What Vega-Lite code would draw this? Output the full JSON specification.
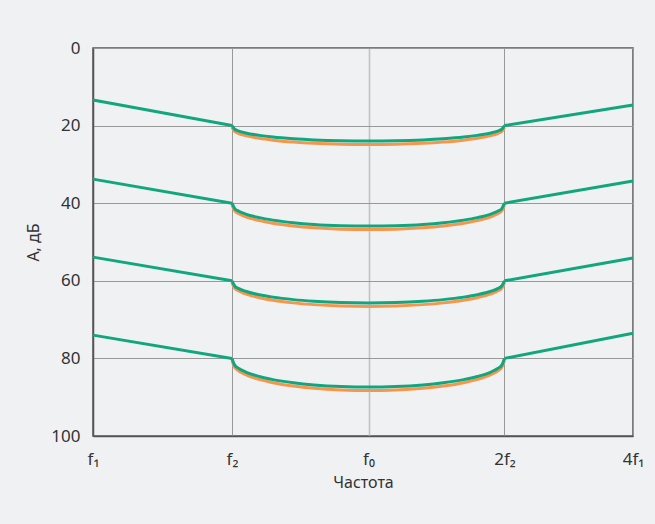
{
  "$schema": "https://vega.github.io/schema/vega-lite/v6.json",
  "autosize": {"type": "none"},
  "width": 540,
  "height": 388,
  "padding": {"left": 93, "top": 48, "right": 22, "bottom": 88},
  "background": "#f0f1f3",
  "config": {
    "view": {"stroke": "#555555", "strokeWidth": 1.5},
    "font": "Noto Sans",
    "axis": {
      "labelFont": "Noto Sans",
      "titleFont": "Noto Sans",
      "labelColor": "#333333",
      "titleColor": "#333333",
      "labelFontSize": 17,
      "titleFontSize": 16,
      "titleFontWeight": "normal",
      "ticks": false,
      "domainColor": "#555555",
      "domainWidth": 1.5,
      "gridColor": "#999999",
      "gridWidth": 1,
      "gridOpacity": 1
    }
  },
  "datasets": {
    "green": [
      {"line": 1, "seg": "L", "x": 1, "a": 13.4},
      {"line": 1, "seg": "L", "x": 1.42879, "a": 20},
      {"line": 1, "seg": "C", "x": 1.42879, "a": 20},
      {"line": 1, "seg": "C", "x": 1.43886, "a": 20.94},
      {"line": 1, "seg": "C", "x": 1.45406, "a": 21.4},
      {"line": 1, "seg": "C", "x": 1.47976, "a": 21.9},
      {"line": 1, "seg": "C", "x": 1.53255, "a": 22.52},
      {"line": 1, "seg": "C", "x": 1.5872, "a": 22.96},
      {"line": 1, "seg": "C", "x": 1.67287, "a": 23.4},
      {"line": 1, "seg": "C", "x": 1.76316, "a": 23.7},
      {"line": 1, "seg": "C", "x": 1.89118, "a": 23.93},
      {"line": 1, "seg": "C", "x": 2.02849, "a": 24.0},
      {"line": 1, "seg": "C", "x": 2.17515, "a": 23.93},
      {"line": 1, "seg": "C", "x": 2.33243, "a": 23.7},
      {"line": 1, "seg": "C", "x": 2.45781, "a": 23.4},
      {"line": 1, "seg": "C", "x": 2.58993, "a": 22.96},
      {"line": 1, "seg": "C", "x": 2.68194, "a": 22.52},
      {"line": 1, "seg": "C", "x": 2.77722, "a": 21.9},
      {"line": 1, "seg": "C", "x": 2.82611, "a": 21.4},
      {"line": 1, "seg": "C", "x": 2.85599, "a": 20.94},
      {"line": 1, "seg": "C", "x": 2.87588, "a": 20},
      {"line": 1, "seg": "R", "x": 2.87588, "a": 20},
      {"line": 1, "seg": "R", "x": 4, "a": 14.7},

      {"line": 2, "seg": "L", "x": 1, "a": 33.8},
      {"line": 2, "seg": "L", "x": 1.42879, "a": 40},
      {"line": 2, "seg": "C", "x": 1.42879, "a": 40},
      {"line": 2, "seg": "C", "x": 1.43886, "a": 41.38},
      {"line": 2, "seg": "C", "x": 1.45406, "a": 42.07},
      {"line": 2, "seg": "C", "x": 1.47976, "a": 42.8},
      {"line": 2, "seg": "C", "x": 1.53255, "a": 43.72},
      {"line": 2, "seg": "C", "x": 1.5872, "a": 44.36},
      {"line": 2, "seg": "C", "x": 1.67287, "a": 45.02},
      {"line": 2, "seg": "C", "x": 1.76316, "a": 45.46},
      {"line": 2, "seg": "C", "x": 1.89118, "a": 45.79},
      {"line": 2, "seg": "C", "x": 2.02849, "a": 45.9},
      {"line": 2, "seg": "C", "x": 2.17515, "a": 45.79},
      {"line": 2, "seg": "C", "x": 2.33243, "a": 45.46},
      {"line": 2, "seg": "C", "x": 2.45781, "a": 45.02},
      {"line": 2, "seg": "C", "x": 2.58993, "a": 44.36},
      {"line": 2, "seg": "C", "x": 2.68194, "a": 43.72},
      {"line": 2, "seg": "C", "x": 2.77722, "a": 42.8},
      {"line": 2, "seg": "C", "x": 2.82611, "a": 42.07},
      {"line": 2, "seg": "C", "x": 2.85599, "a": 41.38},
      {"line": 2, "seg": "C", "x": 2.87588, "a": 40},
      {"line": 2, "seg": "R", "x": 2.87588, "a": 40},
      {"line": 2, "seg": "R", "x": 4, "a": 34.3},

      {"line": 3, "seg": "L", "x": 1, "a": 53.9},
      {"line": 3, "seg": "L", "x": 1.42879, "a": 60},
      {"line": 3, "seg": "C", "x": 1.42879, "a": 60},
      {"line": 3, "seg": "C", "x": 1.43886, "a": 61.33},
      {"line": 3, "seg": "C", "x": 1.45406, "a": 62.0},
      {"line": 3, "seg": "C", "x": 1.47976, "a": 62.7},
      {"line": 3, "seg": "C", "x": 1.53255, "a": 63.6},
      {"line": 3, "seg": "C", "x": 1.5872, "a": 64.21},
      {"line": 3, "seg": "C", "x": 1.67287, "a": 64.85},
      {"line": 3, "seg": "C", "x": 1.76316, "a": 65.27},
      {"line": 3, "seg": "C", "x": 1.89118, "a": 65.6},
      {"line": 3, "seg": "C", "x": 2.02849, "a": 65.7},
      {"line": 3, "seg": "C", "x": 2.17515, "a": 65.6},
      {"line": 3, "seg": "C", "x": 2.33243, "a": 65.27},
      {"line": 3, "seg": "C", "x": 2.45781, "a": 64.85},
      {"line": 3, "seg": "C", "x": 2.58993, "a": 64.21},
      {"line": 3, "seg": "C", "x": 2.68194, "a": 63.6},
      {"line": 3, "seg": "C", "x": 2.77722, "a": 62.7},
      {"line": 3, "seg": "C", "x": 2.82611, "a": 62.0},
      {"line": 3, "seg": "C", "x": 2.85599, "a": 61.33},
      {"line": 3, "seg": "C", "x": 2.87588, "a": 60},
      {"line": 3, "seg": "R", "x": 2.87588, "a": 60},
      {"line": 3, "seg": "R", "x": 4, "a": 54.1},

      {"line": 4, "seg": "L", "x": 1, "a": 74.0},
      {"line": 4, "seg": "L", "x": 1.42879, "a": 80},
      {"line": 4, "seg": "C", "x": 1.42879, "a": 80},
      {"line": 4, "seg": "C", "x": 1.43886, "a": 81.73},
      {"line": 4, "seg": "C", "x": 1.45406, "a": 82.6},
      {"line": 4, "seg": "C", "x": 1.47976, "a": 83.51},
      {"line": 4, "seg": "C", "x": 1.53255, "a": 84.67},
      {"line": 4, "seg": "C", "x": 1.5872, "a": 85.47},
      {"line": 4, "seg": "C", "x": 1.67287, "a": 86.29},
      {"line": 4, "seg": "C", "x": 1.76316, "a": 86.85},
      {"line": 4, "seg": "C", "x": 1.89118, "a": 87.27},
      {"line": 4, "seg": "C", "x": 2.02849, "a": 87.4},
      {"line": 4, "seg": "C", "x": 2.17515, "a": 87.27},
      {"line": 4, "seg": "C", "x": 2.33243, "a": 86.85},
      {"line": 4, "seg": "C", "x": 2.45781, "a": 86.29},
      {"line": 4, "seg": "C", "x": 2.58993, "a": 85.47},
      {"line": 4, "seg": "C", "x": 2.68194, "a": 84.67},
      {"line": 4, "seg": "C", "x": 2.77722, "a": 83.51},
      {"line": 4, "seg": "C", "x": 2.82611, "a": 82.6},
      {"line": 4, "seg": "C", "x": 2.85599, "a": 81.73},
      {"line": 4, "seg": "C", "x": 2.87588, "a": 80},
      {"line": 4, "seg": "R", "x": 2.87588, "a": 80},
      {"line": 4, "seg": "R", "x": 4, "a": 73.5}
    ],
    "orange": [
      {"line": 1, "seg": "C", "x": 1.42879, "a": 20.5},
      {"line": 1, "seg": "C", "x": 1.43886, "a": 21.53},
      {"line": 1, "seg": "C", "x": 1.45406, "a": 22.04},
      {"line": 1, "seg": "C", "x": 1.47976, "a": 22.59},
      {"line": 1, "seg": "C", "x": 1.53255, "a": 23.28},
      {"line": 1, "seg": "C", "x": 1.5872, "a": 23.75},
      {"line": 1, "seg": "C", "x": 1.67287, "a": 24.24},
      {"line": 1, "seg": "C", "x": 1.76316, "a": 24.57},
      {"line": 1, "seg": "C", "x": 1.89118, "a": 24.82},
      {"line": 1, "seg": "C", "x": 2.02849, "a": 24.9},
      {"line": 1, "seg": "C", "x": 2.17515, "a": 24.82},
      {"line": 1, "seg": "C", "x": 2.33243, "a": 24.57},
      {"line": 1, "seg": "C", "x": 2.45781, "a": 24.24},
      {"line": 1, "seg": "C", "x": 2.58993, "a": 23.75},
      {"line": 1, "seg": "C", "x": 2.68194, "a": 23.28},
      {"line": 1, "seg": "C", "x": 2.77722, "a": 22.59},
      {"line": 1, "seg": "C", "x": 2.82611, "a": 22.04},
      {"line": 1, "seg": "C", "x": 2.85599, "a": 21.53},
      {"line": 1, "seg": "C", "x": 2.87588, "a": 20.5},

      {"line": 2, "seg": "C", "x": 1.42879, "a": 40.5},
      {"line": 2, "seg": "C", "x": 1.43886, "a": 41.97},
      {"line": 2, "seg": "C", "x": 1.45406, "a": 42.71},
      {"line": 2, "seg": "C", "x": 1.47976, "a": 43.49},
      {"line": 2, "seg": "C", "x": 1.53255, "a": 44.48},
      {"line": 2, "seg": "C", "x": 1.5872, "a": 45.16},
      {"line": 2, "seg": "C", "x": 1.67287, "a": 45.86},
      {"line": 2, "seg": "C", "x": 1.76316, "a": 46.33},
      {"line": 2, "seg": "C", "x": 1.89118, "a": 46.69},
      {"line": 2, "seg": "C", "x": 2.02849, "a": 46.8},
      {"line": 2, "seg": "C", "x": 2.17515, "a": 46.69},
      {"line": 2, "seg": "C", "x": 2.33243, "a": 46.33},
      {"line": 2, "seg": "C", "x": 2.45781, "a": 45.86},
      {"line": 2, "seg": "C", "x": 2.58993, "a": 45.16},
      {"line": 2, "seg": "C", "x": 2.68194, "a": 44.48},
      {"line": 2, "seg": "C", "x": 2.77722, "a": 43.49},
      {"line": 2, "seg": "C", "x": 2.82611, "a": 42.71},
      {"line": 2, "seg": "C", "x": 2.85599, "a": 41.97},
      {"line": 2, "seg": "C", "x": 2.87588, "a": 40.5},

      {"line": 3, "seg": "C", "x": 1.42879, "a": 60.5},
      {"line": 3, "seg": "C", "x": 1.43886, "a": 61.93},
      {"line": 3, "seg": "C", "x": 1.45406, "a": 62.64},
      {"line": 3, "seg": "C", "x": 1.47976, "a": 63.39},
      {"line": 3, "seg": "C", "x": 1.53255, "a": 64.35},
      {"line": 3, "seg": "C", "x": 1.5872, "a": 65.01},
      {"line": 3, "seg": "C", "x": 1.67287, "a": 65.69},
      {"line": 3, "seg": "C", "x": 1.76316, "a": 66.14},
      {"line": 3, "seg": "C", "x": 1.89118, "a": 66.49},
      {"line": 3, "seg": "C", "x": 2.02849, "a": 66.6},
      {"line": 3, "seg": "C", "x": 2.17515, "a": 66.49},
      {"line": 3, "seg": "C", "x": 2.33243, "a": 66.14},
      {"line": 3, "seg": "C", "x": 2.45781, "a": 65.69},
      {"line": 3, "seg": "C", "x": 2.58993, "a": 65.01},
      {"line": 3, "seg": "C", "x": 2.68194, "a": 64.35},
      {"line": 3, "seg": "C", "x": 2.77722, "a": 63.39},
      {"line": 3, "seg": "C", "x": 2.82611, "a": 62.64},
      {"line": 3, "seg": "C", "x": 2.85599, "a": 61.93},
      {"line": 3, "seg": "C", "x": 2.87588, "a": 60.5},

      {"line": 4, "seg": "C", "x": 1.42879, "a": 80.5},
      {"line": 4, "seg": "C", "x": 1.43886, "a": 82.33},
      {"line": 4, "seg": "C", "x": 1.45406, "a": 83.24},
      {"line": 4, "seg": "C", "x": 1.47976, "a": 84.2},
      {"line": 4, "seg": "C", "x": 1.53255, "a": 85.42},
      {"line": 4, "seg": "C", "x": 1.5872, "a": 86.26},
      {"line": 4, "seg": "C", "x": 1.67287, "a": 87.13},
      {"line": 4, "seg": "C", "x": 1.76316, "a": 87.72},
      {"line": 4, "seg": "C", "x": 1.89118, "a": 88.16},
      {"line": 4, "seg": "C", "x": 2.02849, "a": 88.3},
      {"line": 4, "seg": "C", "x": 2.17515, "a": 88.16},
      {"line": 4, "seg": "C", "x": 2.33243, "a": 87.72},
      {"line": 4, "seg": "C", "x": 2.45781, "a": 87.13},
      {"line": 4, "seg": "C", "x": 2.58993, "a": 86.26},
      {"line": 4, "seg": "C", "x": 2.68194, "a": 85.42},
      {"line": 4, "seg": "C", "x": 2.77722, "a": 84.2},
      {"line": 4, "seg": "C", "x": 2.82611, "a": 83.24},
      {"line": 4, "seg": "C", "x": 2.85599, "a": 82.33},
      {"line": 4, "seg": "C", "x": 2.87588, "a": 80.5}
    ]
  },
  "encoding": {
    "x": {
      "field": "x",
      "type": "quantitative",
      "scale": {"type": "log", "domain": [1, 4], "nice": false},
      "axis": {
        "title": "Частота",
        "values": [1, 1.42879, 2.02849, 2.87588, 4],
        "labelExpr": "datum.value < 1.2 ? 'f₁' : datum.value < 1.7 ? 'f₂' : datum.value < 2.4 ? 'f₀' : datum.value < 3.4 ? '2f₂' : '4f₁'",
        "labelPadding": 15,
        "titlePadding": 7,
        "labelFlush": false,
        "gridColor": {"condition": {"test": "abs(datum.value - 2.02849) < 0.01", "value": "#c2c2c2"}, "value": "#999999"},
        "gridWidth": {"condition": {"test": "abs(datum.value - 2.02849) < 0.01", "value": 1.6}, "value": 1}
      }
    },
    "y": {
      "field": "a",
      "type": "quantitative",
      "scale": {"domain": [0, 100], "reverse": true, "nice": false},
      "axis": {
        "title": "А, дБ",
        "values": [0, 20, 40, 60, 80, 100],
        "labelPadding": 13,
        "titlePadding": 9
      }
    },
    "detail": [{"field": "line", "type": "nominal"}, {"field": "seg", "type": "nominal"}]
  },
  "layer": [
    {
      "data": {"name": "orange"},
      "mark": {"type": "line", "color": "#f7964a", "strokeWidth": 3, "interpolate": "monotone"}
    },
    {
      "data": {"name": "green"},
      "mark": {"type": "line", "color": "#12a67f", "strokeWidth": 3, "interpolate": "monotone"}
    }
  ]
}
